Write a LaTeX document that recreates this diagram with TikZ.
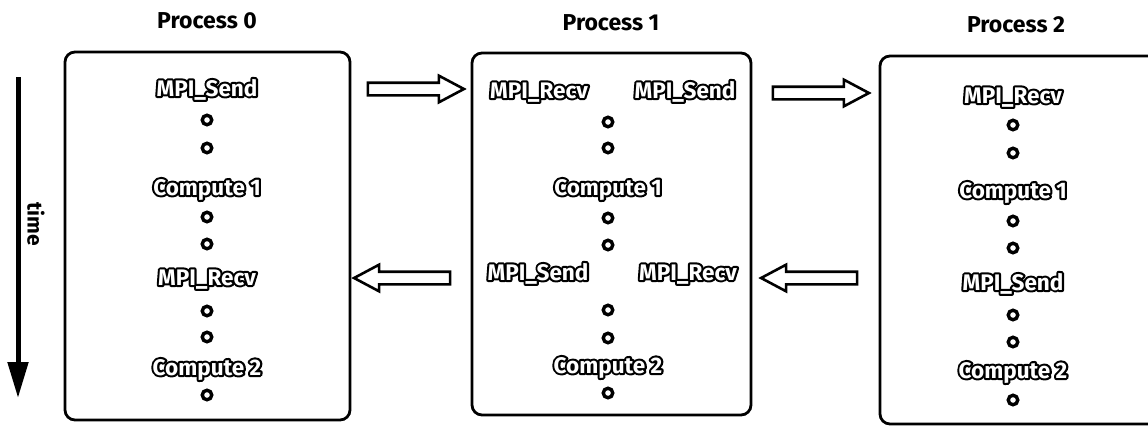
\documentclass[tikz,border=0pt]{standalone}
\usepackage{fontspec}
\setmainfont{Fira Sans}
\usetikzlibrary{shapes.arrows,arrows.meta}

\tikzset{
  procbox/.style={draw, line width=2.8pt, rounded corners=10pt, inner sep=0pt},
  title/.style={font=\fontsize{23}{26}\selectfont\bfseries, text height=16pt, text depth=0pt, inner sep=0pt},
  op/.style={font=\fontsize{22.5}{25}\selectfont\bfseries, text=white, text height=16pt, text depth=0pt, inner sep=0pt},
  dot/.style={circle, draw, line width=3.4pt, minimum size=9.5pt, inner sep=0pt},
  msg/.style={single arrow, draw, line width=2.6pt, fill=white, inner sep=0pt,
    minimum height=96pt, text height=10pt, text depth=0pt, text width=0pt,
    single arrow head extend=7pt, single arrow tip angle=56},
  msgleft/.style={msg, shape border rotate=180},
}
% white letters with a black rim: a stroked copy below, the filled copy on top
\newcommand{\optext}[1]{\leavevmode\rlap{\special{pdf:literal direct 1 Tr 4.2 w 1 j 0 G}#1\special{pdf:literal direct 0 Tr}}#1}

\begin{document}
\begin{tikzpicture}[x=1pt, y=-1pt]
\clip (0,0) rectangle (1148,426);
\useasboundingbox (0,0) rectangle (1148,426);

% time axis
\coordinate (t0) at (18,77);
\coordinate (t1) at (18,398);
\draw[line width=5pt, -{Triangle[length=36pt, width=20pt]}] (t0) -- (t1);
\node[font=\fontsize{21}{24}\selectfont\bfseries, rotate=-90, inner sep=0pt] (time) at (36,224) {time};

% process boxes
\node[procbox, minimum width=285pt, minimum height=368pt] (p0) at (207.5,236) {};
\node[procbox, minimum width=279pt, minimum height=362pt] (p1) at (611.5,234) {};
\node[procbox, minimum width=280pt, minimum height=368pt] (p2) at (1020,240) {};

\node[title] (l0) at (207,20) {Process 0};
\node[title] (l1) at (611,22) {Process 1};
\node[title] (l2) at (1016,24) {Process 2};

% Process 0
\node[op]  (s0a) at (207,88)  {\optext{MPI\_Send}};
\node[dot] (d0a) at (207,120) {};
\node[dot] (d0b) at (207,148) {};
\node[op]  (c0a) at (207,187) {\optext{Compute 1}};
\node[dot] (d0c) at (207,217) {};
\node[dot] (d0d) at (207,244) {};
\node[op]  (r0a) at (207,277) {\optext{MPI\_Recv}};
\node[dot] (d0e) at (207,311) {};
\node[dot] (d0f) at (207,337) {};
\node[op]  (c0b) at (207,367) {\optext{Compute 2}};
\node[dot] (d0g) at (207,395) {};

% Process 1
\node[op]  (r1a) at (539,90)  {\optext{MPI\_Recv}};
\node[op]  (s1a) at (685,90)  {\optext{MPI\_Send}};
\node[dot] (d1a) at (608,122) {};
\node[dot] (d1b) at (608,148) {};
\node[op]  (c1a) at (608,187) {\optext{Compute 1}};
\node[dot] (d1c) at (608,218) {};
\node[dot] (d1d) at (608,245) {};
\node[op]  (s1b) at (538,272) {\optext{MPI\_Send}};
\node[op]  (r1b) at (688,272) {\optext{MPI\_Recv}};
\node[dot] (d1e) at (608,310) {};
\node[dot] (d1f) at (608,338) {};
\node[op]  (c1b) at (608,365) {\optext{Compute 2}};
\node[dot] (d1g) at (608,393) {};

% Process 2
\node[op]  (r2a) at (1013,95)  {\optext{MPI\_Recv}};
\node[dot] (d2a) at (1013,125) {};
\node[dot] (d2b) at (1013,153) {};
\node[op]  (c2a) at (1013,190) {\optext{Compute 1}};
\node[dot] (d2c) at (1013,221) {};
\node[dot] (d2d) at (1013,248) {};
\node[op]  (s2a) at (1013,282) {\optext{MPI\_Send}};
\node[dot] (d2e) at (1013,315) {};
\node[dot] (d2f) at (1013,342) {};
\node[op]  (c2b) at (1013,370) {\optext{Compute 2}};
\node[dot] (d2g) at (1013,400) {};

% messages between processes
\node[msg]     (m01) at (410,89)  {};
\node[msg]     (m12) at (815,93)  {};
\node[msgleft] (m10) at (408,278) {};
\node[msgleft] (m21) at (815,278) {};
\end{tikzpicture}
\end{document}
